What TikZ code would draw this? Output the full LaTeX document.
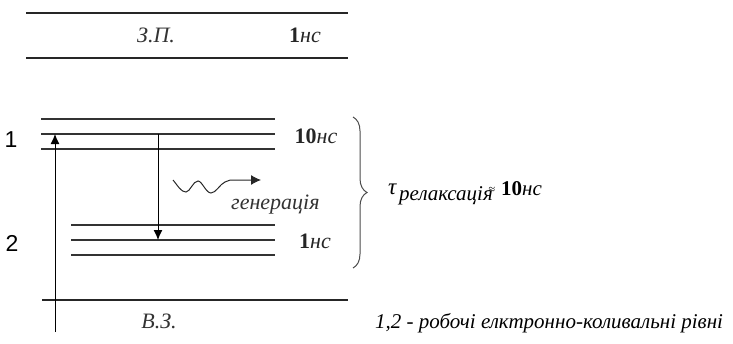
\documentclass[tikz,border=0pt]{standalone}
\usepackage{fontspec}
\setmainfont{Liberation Serif}
\newfontfamily\labelsans{Liberation Sans}
\usetikzlibrary{arrows.meta,decorations.pathreplacing}

\tikzset{
  level/.style={draw=black!80, line width=1.1pt},
  band/.style={draw=black!85, line width=1.1pt},
  trans/.style={draw=black, line width=1pt, -{Latex[length=10pt,width=9pt]}},
  txt/.style={inner sep=0pt, anchor=base, font=\fontsize{22}{24}\selectfont\itshape, text=black!80},
  lifetime/.style={inner sep=0pt, anchor=base, font=\fontsize{22}{24}\selectfont, text=black!85},
  num/.style={inner sep=0pt, anchor=base, font=\fontsize{23}{25}\selectfont\labelsans}
}
\newcommand{\nsunit}[1]{\textbf{#1}\textit{нс}}

\begin{document}
\begin{tikzpicture}[x=1pt,y=-1pt]
  \useasboundingbox (0,0) rectangle (733,343);

  % conduction band (З.П.)
  \draw[band] (26,13) -- (348,13);
  \draw[band] (26,58) -- (348,58);
  \node[txt] (cb) at (156,42) {З.П.};
  \node[lifetime] (cbt) at (305,42) {\nsunit{1}};

  % working level 1
  \draw[level] (41,119) -- (275,119);
  \draw[level] (41,134) -- (275,134);
  \draw[level] (41,149) -- (275,149);
  \node[num] (n1) at (11,147) {1};
  \node[lifetime] (t1) at (316,143) {\nsunit{10}};

  % working level 2
  \draw[level] (71,225) -- (275,225);
  \draw[level] (71,240) -- (275,240);
  \draw[level] (71,255) -- (275,255);
  \node[num] (n2) at (12,251) {2};
  \node[lifetime] (t2) at (315,248) {\nsunit{1}};

  % valence band (В.З.)
  \draw[band] (42,300) -- (348,300);
  \node[txt] (vb) at (159,328) {В.З.};

  % pumping and lasing transitions
  \coordinate (pumpfrom) at (55,332);
  \coordinate (pumpto) at (55,134);
  \coordinate (lasefrom) at (158,134);
  \coordinate (laseto) at (158,240);
  \draw[trans] (pumpfrom) -- (pumpto);
  \draw[trans] (lasefrom) -- (laseto);

  % emitted photon
  \coordinate (ph0) at (173,180);
  \coordinate (ph1) at (261,180);
  \draw[black!85, line width=1pt, -{Latex[length=10pt,width=10pt]}]
    (ph0) .. controls (178,186) and (181,192) .. (186,192)
          .. controls (190,192) and (193,181) .. (198,181)
          .. controls (202,181) and (206,193) .. (211,193)
          .. controls (216,193) and (220,184) .. (225,182)
          .. controls (228,180) and (231,180) .. (235,180) -- (ph1);
  \node[txt, anchor=base west] (gen) at (231,209) {генерація};

  % relaxation brace
  \coordinate (brtop) at (353,117);
  \coordinate (brbot) at (353,268);
  \draw[black!70, line width=1pt, decorate,
        decoration={brace, amplitude=14pt, aspect=0.5}] (brtop) -- (brbot);
  \node[inner sep=0pt, anchor=base west, font=\fontsize{23}{25}\selectfont\itshape] (tau) at (388,194) {τ};
  \node[inner sep=0pt, anchor=base west, font=\fontsize{21}{23}\selectfont\itshape] (relax) at (399,200) {релаксація};
  \node[inner sep=0pt, font=\fontsize{12}{13}\selectfont] (approx) at (492,190) {≈};
  \node[inner sep=0pt, anchor=base west, font=\fontsize{21}{23}\selectfont] (relt) at (501,195) {\nsunit{10}};

  % legend
  \node[inner sep=0pt, anchor=base west, font=\fontsize{21}{23}\selectfont\itshape] (legend) at (375,328)
    {1,2 - робочі елктронно-коливальні рівні};
\end{tikzpicture}
\end{document}
